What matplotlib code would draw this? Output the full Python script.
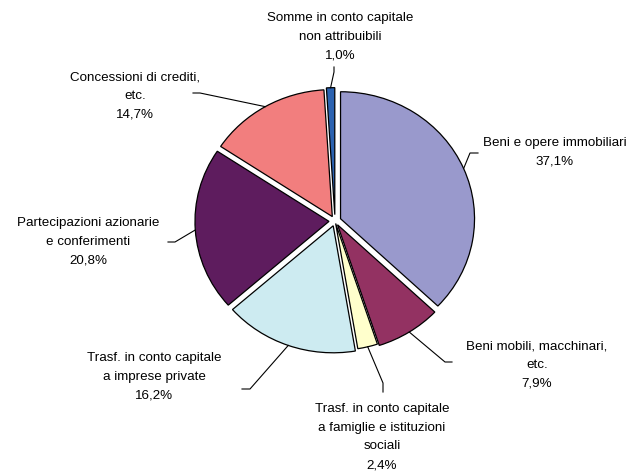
import matplotlib
matplotlib.use("Agg")

import matplotlib.pyplot as plt
import numpy as np

plt.rcParams['font.family'] = ['Liberation Sans', 'DejaVu Sans']

# --- Dati ---
categorie = [
    "Beni e opere immobiliari",
    "Beni mobili, macchinari,\netc.",
    "Trasf. in conto capitale\na famiglie e istituzioni\nsociali",
    "Trasf. in conto capitale\na imprese private",
    "Partecipazioni azionarie\ne conferimenti",
    "Concessioni di crediti,\netc.",
    "Somme in conto capitale\nnon attribuibili",
]
valori = [37.1, 7.9, 2.4, 16.2, 20.8, 14.7, 1.0]
colori = ["#9999CC", "#933262", "#FFFFCC", "#CDEBF1", "#5E1C5E", "#F27E7E", "#2B62B0"]
esplosione = [0.045, 0.035, 0.02, 0.04, 0.045, 0.04, 0.05]

# posizione del centro delle etichette (pixel dall'alto a sinistra)
pos_etichette = [(555, 152), (537, 365), (382, 437), (154, 377), (88, 242), (135, 96), (340, 37)]
# gomito della linea guida e fine della linea (pixel)
gomiti = [(470, 153), (445, 362), (383, 383), (250, 389), (175, 242), (200, 93), (334, 72)]
fini = [(478, 153), (452, 362), (383, 392), (242, 389), (168, 242), (193, 93), (334, 67)]

W, H = 635, 471
fig = plt.figure(figsize=(W / 100, H / 100), dpi=100)
ax = fig.add_axes([0, 0, 1, 1])

# centro della torta in pixel e raggi (leggermente ellittica come nell'originale)
cx, cy = 335, 221
rx, ry = 134, 127

wedges, _ = ax.pie(valori, colors=colori, explode=esplosione, startangle=90,
                   counterclock=False, radius=1.0,
                   wedgeprops=dict(edgecolor='black', linewidth=0.9))

ax.set_aspect('auto')
ax.set_xlim(-cx / rx, (W - cx) / rx)
ax.set_ylim(-(H - cy) / ry, cy / ry)
ax.axis('off')


def px(p):
    # pixel (alto-sinistra) -> coordinate dati
    return ((p[0] - cx) / rx, (cy - p[1]) / ry)


for i, w in enumerate(wedges):
    ang = np.deg2rad((w.theta1 + w.theta2) / 2)
    x0 = w.center[0] + w.r * np.cos(ang)
    y0 = w.center[1] + w.r * np.sin(ang)
    g = px(gomiti[i])
    f = px(fini[i])
    ax.plot([x0, g[0], f[0]], [y0, g[1], f[1]], color='black', linewidth=0.8)

    testo = categorie[i] + "\n" + f"{valori[i]:.1f}".replace(".", ",") + "%"
    tx, ty = px(pos_etichette[i])
    ax.text(tx, ty, testo, ha='center', va='center', fontsize=9.6,
            linespacing=1.75, color='black')

plt.savefig("out.png", dpi=100)
